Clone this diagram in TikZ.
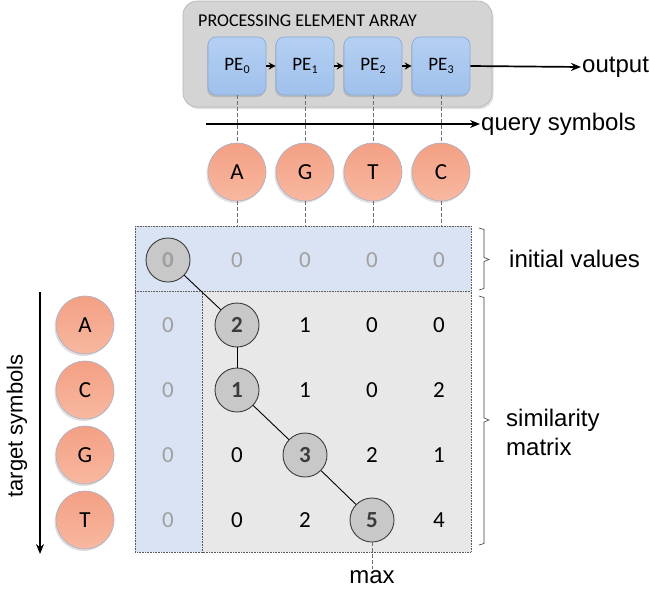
\documentclass[tikz,border=0pt]{standalone}
\usepackage{fontspec}
\setmainfont{Carlito}
\newfontfamily\arialf{Liberation Sans}
\usetikzlibrary{arrows.meta,shadows}
\definecolor{arrayfill}{RGB}{212,212,212}
\definecolor{arraydraw}{RGB}{178,178,178}
\definecolor{petop}{RGB}{180,207,242}
\definecolor{pebot}{RGB}{160,193,236}
\definecolor{pedraw}{RGB}{135,168,214}
\definecolor{baltop}{RGB}{243,160,132}
\definecolor{balbot}{RGB}{248,184,160}
\definecolor{baldraw}{RGB}{165,176,202}
\definecolor{initfill}{RGB}{218,227,243}
\definecolor{simfill}{RGB}{232,232,232}
\definecolor{lightnum}{RGB}{160,160,160}
\definecolor{darknum}{RGB}{60,60,60}
\definecolor{hlfill}{RGB}{200,200,200}
\definecolor{dashcol}{RGB}{110,110,110}
\definecolor{dotcol}{RGB}{90,90,90}
\begin{document}
\begin{tikzpicture}[x=1pt,y=-1pt,
  arraybox/.style={draw=arraydraw, fill=arrayfill, rounded corners=14pt, line width=0.6pt,
    minimum width=309pt, minimum height=106pt, inner sep=0pt,
    drop shadow={opacity=0.25, shadow xshift=1.5pt, shadow yshift=-2pt}},
  pebox/.style={draw=pedraw, top color=petop, bottom color=pebot, rounded corners=8pt, line width=0.6pt,
    minimum width=58pt, minimum height=58pt, inner sep=0pt,
    font=\fontsize{19}{22}\selectfont,
    drop shadow={opacity=0.3, shadow xshift=-1pt, shadow yshift=-2pt}},
  ball/.style={circle, draw=baldraw, line width=0.6pt, top color=baltop, bottom color=balbot,
    minimum size=58pt, inner sep=0pt, font=\fontsize{23}{26}\selectfont,
    drop shadow={opacity=0.25, shadow xshift=-1.5pt, shadow yshift=-2pt}},
  num/.style={inner sep=0pt, font=\fontsize{23}{26}\selectfont},
  gnum/.style={num, text=lightnum},
  hl/.style={circle, draw=darknum, fill=hlfill, line width=0.9pt, minimum size=44pt, inner sep=0pt,
    font=\fontsize{23}{26}\selectfont\bfseries, text=darknum},
  lbl/.style={inner sep=1pt, font=\arialf\fontsize{24}{29}\selectfont, align=left},
  arr/.style={-{Stealth[length=10pt,width=8pt]}, line width=1.7pt},
  sarr/.style={-{Stealth[length=7pt,width=7pt]}, line width=1.4pt},
  dashv/.style={draw=dashcol, line width=0.7pt, dash pattern=on 3.5pt off 2.5pt},
  dotb/.style={draw=dotcol, line width=0.8pt, dash pattern=on 0.8pt off 0.8pt},
  brace/.style={draw=darknum, line width=0.6pt}
]
\useasboundingbox (0,0) rectangle (650,592);

% processing element array
\node[arraybox] (array) at (337.5,54) {};
\node[anchor=west, inner sep=0pt, font=\fontsize{18}{21}\selectfont] (title) at (198,21) {PROCESSING ELEMENT ARRAY};
\node[pebox] (pe0) at (237,66) {PE\raisebox{-0.3ex}{\fontsize{12}{14}\selectfont 0}};
\node[pebox] (pe1) at (305,66) {PE\raisebox{-0.3ex}{\fontsize{12}{14}\selectfont 1}};
\node[pebox] (pe2) at (373,66) {PE\raisebox{-0.3ex}{\fontsize{12}{14}\selectfont 2}};
\node[pebox] (pe3) at (441,66) {PE\raisebox{-0.3ex}{\fontsize{12}{14}\selectfont 3}};
\draw[sarr] (pe0) -- (pe1);
\draw[sarr] (pe1) -- (pe2);
\draw[sarr] (pe2) -- (pe3);
\node[lbl, anchor=west] (out) at (581,67) {output};
\draw[arr] (pe3.east) -- (out.west);

% query symbols
\node[ball] (q0) at (237,172) {A};
\node[ball] (q1) at (305,172) {G};
\node[ball] (q2) at (373,172) {T};
\node[ball] (q3) at (441,172) {C};
\coordinate (m0) at (237,226);
\coordinate (m1) at (305,226);
\coordinate (m2) at (373,226);
\coordinate (m3) at (441,226);
\foreach \i in {0,1,2,3} {
  \draw[dashv] (pe\i.south) -- (q\i.north);
  \draw[dashv] (q\i.south) -- (m\i);
}
\coordinate (qs) at (206,124);
\node[lbl, anchor=west] (qlbl) at (480,124) {query symbols};
\draw[arr] (qs) -- (qlbl.west);

% matrix background
\fill[initfill] (135,226) rectangle (471,291);
\fill[initfill] (135,291) rectangle (202,552);
\fill[simfill] (202,291) rectangle (471,552);
\draw[dotb] (135,226) rectangle (471,552);
\draw[dotb] (135,291) -- (471,291);
\draw[dotb] (202,291) -- (202,552);

% matrix values
\node[hl, text=lightnum] (c00) at (168,260) {0};
\node[gnum] (c01) at (237,260) {0};
\node[gnum] (c02) at (305,260) {0};
\node[gnum] (c03) at (372,260) {0};
\node[gnum] (c04) at (439,260) {0};

\node[gnum] (c10) at (168,325) {0};
\node[hl] (c11) at (237,325) {2};
\node[num] (c12) at (305,325) {1};
\node[num] (c13) at (372,325) {0};
\node[num] (c14) at (439,325) {0};

\node[gnum] (c20) at (168,390) {0};
\node[hl] (c21) at (237,390) {1};
\node[num] (c22) at (305,390) {1};
\node[num] (c23) at (372,390) {0};
\node[num] (c24) at (439,390) {2};

\node[gnum] (c30) at (168,455) {0};
\node[num] (c31) at (237,455) {0};
\node[hl] (c32) at (305,455) {3};
\node[num] (c33) at (372,455) {2};
\node[num] (c34) at (439,455) {1};

\node[gnum] (c40) at (168,520) {0};
\node[num] (c41) at (237,520) {0};
\node[num] (c42) at (305,520) {2};
\node[hl] (c43) at (372,520) {5};
\node[num] (c44) at (439,520) {4};

\draw[line width=0.9pt] (c00) -- (c11);
\draw[line width=0.9pt] (c11) -- (c21);
\draw[line width=0.9pt] (c21) -- (c32);
\draw[line width=0.9pt] (c32) -- (c43);

\node[lbl] (maxl) at (372,577) {max};
\draw[dashv] (c43.south) -- (maxl.north);

% target symbols
\node[ball] (t0) at (85,325) {A};
\node[ball] (t1) at (85,390) {C};
\node[ball] (t2) at (85,455) {G};
\node[ball] (t3) at (85,520) {T};
\coordinate (ts) at (40,292);
\coordinate (te) at (40,554);
\draw[arr] (ts) -- (te);
\node[lbl, rotate=90, font=\arialf\fontsize{22}{26}\selectfont] (tlbl) at (17,426) {target symbols};

% braces
\draw[brace] (479,228) -- (484,229.5) -- (484,257.5) -- (489,259.5) -- (484,261.5) -- (484,288.5) -- (479,290);
\draw[brace] (479,296) -- (484,297.5) -- (484,418) -- (489,420) -- (484,422) -- (484,543.5) -- (479,545);
\node[lbl, anchor=west] (ivl) at (508,259) {initial values};
\node[lbl, anchor=west] (sml) at (505,432) {similarity\\matrix};
\end{tikzpicture}
\end{document}
